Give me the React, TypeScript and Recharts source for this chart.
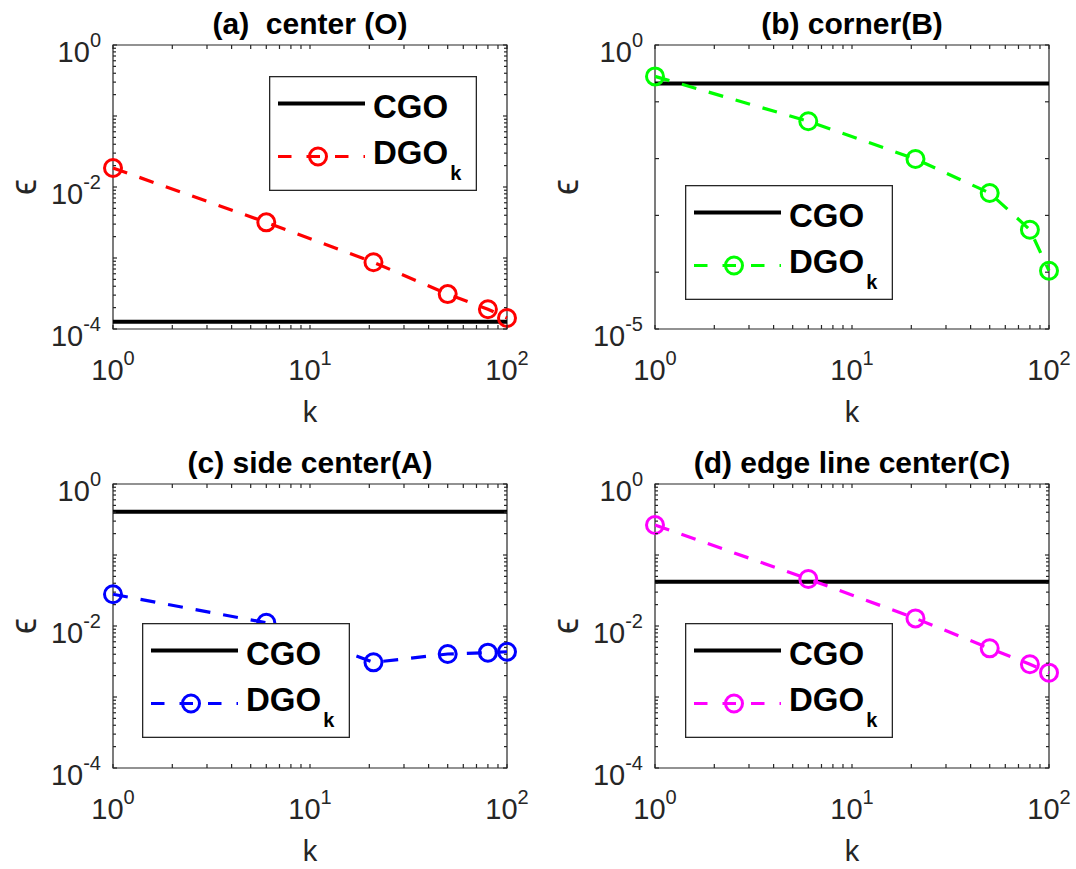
import { LineChart, Line, XAxis, YAxis, ReferenceArea, Legend } from "recharts";

// sample sizes k used in every panel
const K_VALUES = [1, 6, 21, 50, 80, 100];

// (a) center (O)
const CENTER_DGO = [0.0185, 0.00318, 0.00087, 0.00031, 0.00019, 0.000143];
const CENTER_CGO = 0.000127;
// (b) corner (B)
const CORNER_DGO = [0.28, 0.0454, 0.00984, 0.00248, 0.00056, 0.000106];
const CORNER_CGO = 0.21;
// (c) side center (A)
const SIDE_DGO = [0.028, 0.0111, 0.00308, 0.00403, 0.00421, 0.00434];
const SIDE_CGO = 0.407;
// (d) edge line center (C)
const EDGE_DGO = [0.265, 0.0459, 0.0128, 0.00485, 0.00289, 0.0022];
const EDGE_CGO = 0.042;

const X_TICKS = [1, 2, 3, 4, 5, 6, 7, 8, 9, 10, 20, 30, 40, 50, 60, 70, 80, 90, 100];
const X_LABELS = [1, 10, 100];

const minorDecades = (lo: number, hi: number) => {
  const out: number[] = [];
  for (let e = lo; e < hi; e++) {
    out.push(Math.pow(10, e));
    for (let m = 2; m <= 9; m++) out.push(m * Math.pow(10, e));
  }
  out.push(Math.pow(10, hi));
  return out;
};

const Y_TICKS_4 = minorDecades(-4, 0);
const Y_LABELS_4 = [1e-4, 1e-2, 1];
const Y_TICKS_5 = [1e-5, 1e-4, 1e-3, 1e-2, 1e-1, 1];
const Y_LABELS_5 = [1e-5, 1];

const FONT = '"Liberation Sans", Arial, Helvetica, sans-serif';
const AXIS = "#262626";
const CHART_W = 538;
const CHART_H = 434;
const PLOT_W = 394;
const PLOT_H = 284;
const X_AXIS_H = 40;
const Y_AXIS_W = 40;
const TICK_LEN = 4;

const expOf = (v: number) => Math.round(Math.log10(v));
const isMajor = (v: number) => Math.abs(Math.log10(v) - expOf(v)) < 1e-6;
const hasLabel = (v: number, labels: number[]) => labels.some((l) => expOf(l) === expOf(v)) && isMajor(v);

function XTick(props: any) {
  const { x, payload, top, labels } = props;
  const bottom = top + PLOT_H;
  const v = payload.value;
  return (
    <g>
      <line x1={x} x2={x} y1={bottom} y2={bottom - TICK_LEN} stroke={AXIS} strokeWidth={1.2} />
      <line x1={x} x2={x} y1={top} y2={top + TICK_LEN} stroke={AXIS} strokeWidth={1.2} />
      {hasLabel(v, labels) && (
        <text x={x} y={bottom + 51} textAnchor="middle" fill={AXIS} fontFamily={FONT} fontSize={29}>
          <tspan>10</tspan>
          <tspan dy={-15} fontSize={20}>{expOf(v)}</tspan>
        </text>
      )}
    </g>
  );
}

function YTick(props: any) {
  const { y, payload, left, labels } = props;
  const right = left + PLOT_W;
  const v = payload.value;
  const len = isMajor(v) ? TICK_LEN : 3;
  return (
    <g>
      <line x1={left} x2={left + len} y1={y} y2={y} stroke={AXIS} strokeWidth={1.2} />
      <line x1={right} x2={right - len} y1={y} y2={y} stroke={AXIS} strokeWidth={1.2} />
      {hasLabel(v, labels) && (
        <text x={left - 12} y={y + 17} textAnchor="end" fill={AXIS} fontFamily={FONT} fontSize={29}>
          <tspan>10</tspan>
          <tspan dy={-15} fontSize={20}>{expOf(v)}</tspan>
        </text>
      )}
    </g>
  );
}

function TitleLabel({ left, top, text }: any) {
  return (
    <text
      x={left + PLOT_W / 2}
      y={top - 11}
      textAnchor="middle"
      fontFamily={FONT}
      fontSize={30}
      fontWeight="bold"
      fill="#000"
      xmlSpace="preserve"
      style={{ whiteSpace: "pre" }}
    >
      {text}
    </text>
  );
}

function KLabel({ left, top }: any) {
  return (
    <text x={left + PLOT_W / 2} y={top + PLOT_H + 93} textAnchor="middle" fontFamily={FONT} fontSize={29} fill={AXIS}>
      k
    </text>
  );
}

function EpsLabel({ left, top }: any) {
  const cx = left - 90;
  const cy = top + PLOT_H / 2;
  return (
    <text
      x={cx}
      y={cy}
      textAnchor="middle"
      dominantBaseline="central"
      transform={`rotate(-90 ${cx} ${cy})`}
      fontFamily={FONT}
      fontSize={36}
      fill={AXIS}
    >
      ϵ
    </text>
  );
}

function LegendBox({ color }: { color: string }) {
  return (
    <svg width={208} height={115} style={{ display: "block" }}>
      <rect x={0.65} y={0.65} width={206.7} height={113.7} fill="#fff" stroke={AXIS} strokeWidth={1.3} />
      <line x1={9} x2={96} y1={27.6} y2={27.6} stroke="#000" strokeWidth={4} />
      <text x={104} y={41.6} fontFamily={FONT} fontSize={33} fontWeight="bold" fill="#000">
        CGO
      </text>
      <line x1={9} x2={96} y1={80.5} y2={80.5} stroke={color} strokeWidth={3.2} strokeDasharray="13.5 15" />
      <circle cx={49} cy={80.5} r={8.5} stroke={color} strokeWidth={3} fill="none" />
      <text x={104} y={87.6} fontFamily={FONT} fontSize={33} fontWeight="bold" fill="#000">
        DGO
        <tspan dx={2} dy={16.7} fontSize={20}>k</tspan>
      </text>
    </svg>
  );
}

interface PanelProps {
  x: number;
  y: number;
  plotLeft: number;
  plotTop: number;
  title: string;
  dgo: number[];
  cgo: number;
  color: string;
  yDomain: [number, number];
  yTicks: number[];
  yLabels: number[];
  legendX: number;
  legendY: number;
}

function Panel(p: PanelProps) {
  const data = K_VALUES.map((k, i) => ({ k, dgo: p.dgo[i], cgo: p.cgo }));
  const margin = {
    top: p.plotTop,
    left: p.plotLeft - Y_AXIS_W,
    right: CHART_W - p.plotLeft - PLOT_W,
    bottom: CHART_H - p.plotTop - PLOT_H - X_AXIS_H,
  };
  return (
    <div style={{ position: "absolute", left: p.x, top: p.y, width: CHART_W, height: CHART_H }}>
      <LineChart width={CHART_W} height={CHART_H} data={data} margin={margin}>
        <XAxis
          dataKey="k"
          type="number"
          scale="log"
          domain={[1, 100]}
          ticks={X_TICKS}
          interval={0}
          height={X_AXIS_H}
          axisLine={false}
          tickLine={false}
          tickSize={0}
          tickMargin={0}
          tick={(t: any) => <XTick {...t} top={p.plotTop} labels={X_LABELS} />}
          label={<KLabel left={p.plotLeft} top={p.plotTop} />}
        />
        <YAxis
          type="number"
          scale="log"
          domain={p.yDomain}
          ticks={p.yTicks}
          interval={0}
          width={Y_AXIS_W}
          axisLine={false}
          tickLine={false}
          tickSize={0}
          tickMargin={0}
          tick={(t: any) => <YTick {...t} left={p.plotLeft} labels={p.yLabels} />}
          label={<EpsLabel left={p.plotLeft} top={p.plotTop} />}
        />
        <ReferenceArea
          x1={1}
          x2={100}
          y1={p.yDomain[0]}
          y2={p.yDomain[1]}
          fill="none"
          fillOpacity={0}
          stroke={AXIS}
          strokeWidth={1.2}
          label={<TitleLabel left={p.plotLeft} top={p.plotTop} text={p.title} />}
        />
        <Line
          dataKey="cgo"
          name="CGO"
          stroke="#000"
          strokeWidth={4}
          dot={false}
          activeDot={false}
          isAnimationActive={false}
        />
        <Line
          dataKey="dgo"
          name="DGO"
          stroke={p.color}
          strokeWidth={3.2}
          strokeDasharray="15 13"
          dot={{ r: 8.5, stroke: p.color, strokeWidth: 3, fill: "none", strokeDasharray: "none" }}
          activeDot={false}
          isAnimationActive={false}
        />
        <Legend
          layout="horizontal"
          verticalAlign="middle"
          align="center"
          wrapperStyle={{ left: p.legendX, top: p.legendY, width: 208, height: 115 }}
          content={() => <LegendBox color={p.color} />}
        />
      </LineChart>
    </div>
  );
}

export default function App() {
  return (
    <div style={{ position: "absolute", left: 0, top: 0, width: 1076, height: 869, background: "#fff" }}>
      <Panel
        x={0}
        y={0}
        plotLeft={113}
        plotTop={45}
        title="(a)  center (O)"
        dgo={CENTER_DGO}
        cgo={CENTER_CGO}
        color="#ff0000"
        yDomain={[1e-4, 1]}
        yTicks={Y_TICKS_4}
        yLabels={Y_LABELS_4}
        legendX={269}
        legendY={76}
      />
      <Panel
        x={538}
        y={0}
        plotLeft={117}
        plotTop={45}
        title="(b) corner(B)"
        dgo={CORNER_DGO}
        cgo={CORNER_CGO}
        color="#00ff00"
        yDomain={[1e-5, 1]}
        yTicks={Y_TICKS_5}
        yLabels={Y_LABELS_5}
        legendX={147}
        legendY={185}
      />
      <Panel
        x={0}
        y={434}
        plotLeft={113}
        plotTop={50}
        title="(c) side center(A)"
        dgo={SIDE_DGO}
        cgo={SIDE_CGO}
        color="#0000ff"
        yDomain={[1e-4, 1]}
        yTicks={Y_TICKS_4}
        yLabels={Y_LABELS_4}
        legendX={142}
        legendY={189}
      />
      <Panel
        x={538}
        y={434}
        plotLeft={117}
        plotTop={50}
        title="(d) edge line center(C)"
        dgo={EDGE_DGO}
        cgo={EDGE_CGO}
        color="#ff00ff"
        yDomain={[1e-4, 1]}
        yTicks={Y_TICKS_4}
        yLabels={Y_LABELS_4}
        legendX={147}
        legendY={189}
      />
    </div>
  );
}
